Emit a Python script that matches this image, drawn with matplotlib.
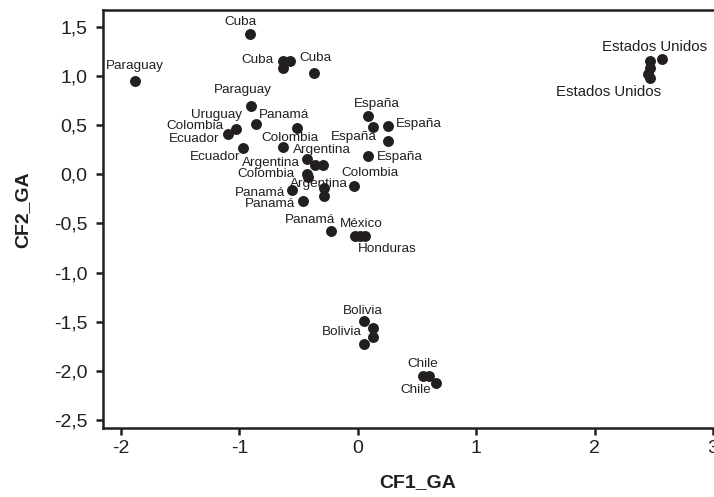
"""Scatter of CF1_GA vs CF2_GA by country."""

import matplotlib

matplotlib.use("Agg")
import matplotlib.pyplot as plt
from matplotlib.ticker import FuncFormatter, MultipleLocator

plt.rcParams["font.family"] = ["Liberation Sans", "DejaVu Sans"]

_INK = "#231f20"

# point coordinates
cf1 = [
    -0.913, -1.886, -0.636, -0.636, -0.574, -0.370, -0.904, -0.864, -1.031, -1.096,
    -0.969, -0.512, -0.636, -0.427, -0.362, -0.291, -0.432, -0.420, -0.283, -0.283,
    -0.031, -0.554, -0.466, -0.229, -0.023, 0.020, 0.062,
    0.090, 0.127, 0.259, 0.259, 0.085,
    2.568, 2.471, 2.471, 2.449, 2.471,
    0.056, 0.127, 0.127, 0.056,
    0.551, 0.598, 0.664,
]
cf2 = [
    1.430, 0.946, 1.156, 1.080, 1.156, 1.034, 0.696, 0.513, 0.463, 0.405,
    0.263, 0.473, 0.280, 0.152, 0.091, 0.091, 0.005, -0.030, -0.136, -0.220,
    -0.122, -0.159, -0.271, -0.575, -0.629, -0.629, -0.629,
    0.591, 0.480, 0.487, 0.338, 0.186,
    1.172, 1.149, 1.081, 1.014, 0.974,
    -1.495, -1.562, -1.657, -1.724,
    -2.053, -2.053, -2.124,
]

# label text, index of the point it belongs to
label_text = [
    "Cuba", "Paraguay", "Cuba", "Cuba", "Paraguay", "Uruguay", "Colombia", "Ecuador",
    "Ecuador", "Panamá", "Colombia", "Argentina", "Argentina", "Colombia", "Argentina",
    "Colombia", "Panamá", "Panamá", "Panamá", "México", "Honduras",
    "España", "España", "España", "España",
    "Estados Unidos", "Estados Unidos", "Bolivia", "Bolivia", "Chile", "Chile",
]
label_point = [
    0, 1, 2, 5, 6, 8, 9, 9,
    10, 7, 12, 15, 13, 16, 18,
    20, 21, 22, 23, 25, 26,
    27, 29, 30, 31,
    33, 36, 37, 39, 41, 43,
]
# (dx, dy) in pixels and horizontal alignment for each label
label_offset = [
    (-9.5, 12), (0, 15), (-9, 1), (1.5, 15), (-8, 16), (-19, 14), (-5, 8), (-9, -5),
    (-3, -9), (3, 9), (7, 9), (-1.5, 15), (-7, -3.5), (-12, 0), (-5, 4),
    (15.5, 13), (-7, -3.5), (-7.5, -3.5), (-20.5, 11), (1.5, 12), (-7, -13),
    (8.5, 12), (7.5, 2.5), (-12, 4), (8.5, -1.5),
    (4, 14), (-42, -13.5), (-2, 10), (-11, 5), (0, 12), (-20.5, -6.5),
]
label_ha = [
    "center", "center", "right", "center", "center", "center", "right", "right",
    "right", "left", "center", "center", "right", "right", "center",
    "center", "right", "right", "center", "center", "left",
    "center", "left", "right", "left",
    "center", "center", "center", "right", "center", "center",
]


def _comma(value, _pos):
    return f"{value:.1f}".replace(".", ",")


fig = plt.figure(figsize=(7.14, 4.97), dpi=100)
ax = fig.add_axes([0.1438, 0.1394, 0.8548, 0.8405])

ax.scatter(cf1, cf2, s=62, color=_INK, linewidths=0, zorder=3)

for text, idx, (dx, dy), ha in zip(label_text, label_point, label_offset, label_ha):
    size = 10.8 if text == "Estados Unidos" else 9.7
    ax.annotate(
        text,
        (cf1[idx], cf2[idx]),
        xytext=(dx, dy),
        textcoords="offset pixels",
        ha=ha,
        va="center",
        fontsize=size,
        color=_INK,
        zorder=4,
    )

ax.set_xlim(-2.155, 3.0)
ax.set_ylim(-2.578, 1.67)
ax.xaxis.set_major_locator(MultipleLocator(1))
ax.yaxis.set_major_locator(MultipleLocator(0.5))
ax.xaxis.set_major_formatter(FuncFormatter(lambda v, _p: f"{v:.0f}"))
ax.yaxis.set_major_formatter(FuncFormatter(_comma))

ax.spines["right"].set_visible(False)
for spine in ("left", "bottom", "top"):
    ax.spines[spine].set_linewidth(1.8)
    ax.spines[spine].set_color(_INK)
ax.tick_params(direction="out", length=5, width=1.8, color=_INK, labelsize=14, labelcolor=_INK)
ax.tick_params(axis="x", pad=4)
ax.tick_params(axis="y", pad=6)

ax.set_xlabel("CF1_GA", fontsize=14, fontweight="bold", color=_INK, va="center")
ax.set_ylabel("CF2_GA", fontsize=14, fontweight="bold", color=_INK, va="center")
ax.xaxis.set_label_coords(0.5155, -0.132)
ax.yaxis.set_label_coords(-0.1314, 0.521)

fig.savefig("out.png", dpi=100)
